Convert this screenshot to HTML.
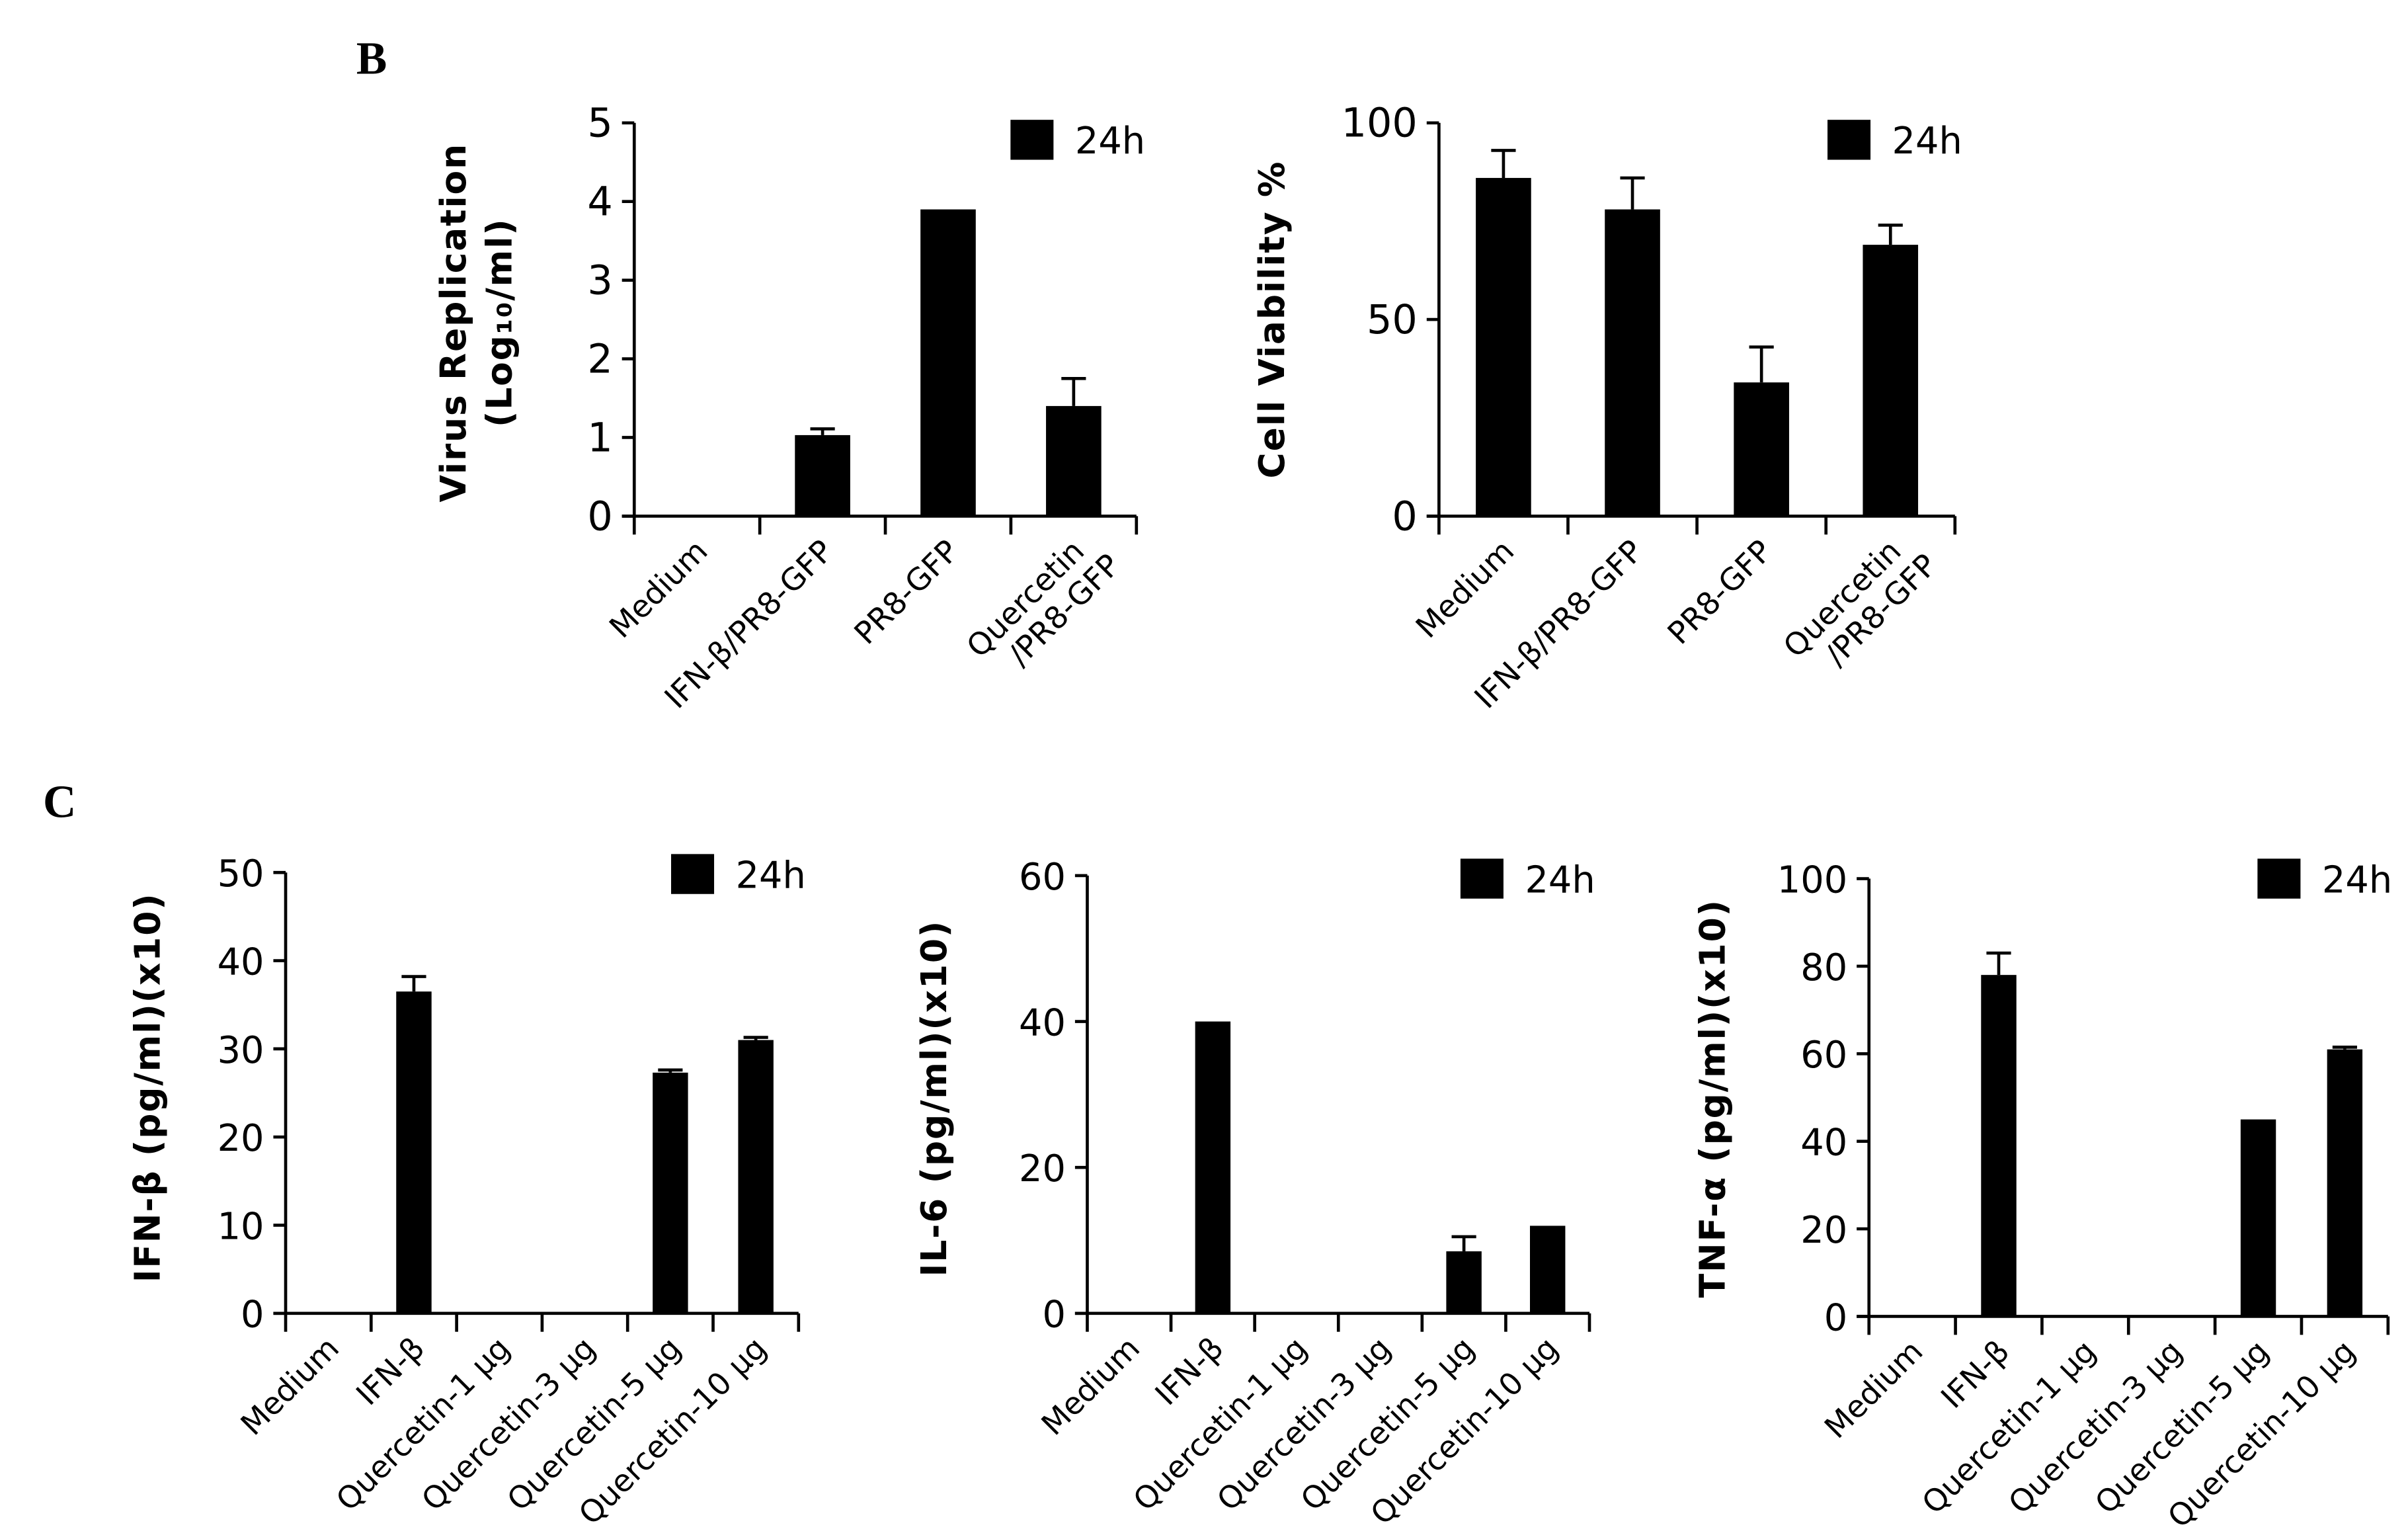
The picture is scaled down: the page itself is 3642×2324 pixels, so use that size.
<!DOCTYPE html>
<html><head><meta charset="utf-8"><style>
html,body{margin:0;padding:0;background:#fff;}
svg{display:block;}
text{font-family:"DejaVu Sans","Liberation Sans",sans-serif;fill:#000;}
</style></head><body>
<svg id="fig" width="3642" height="2324" viewBox="0 0 1568 1000.6" preserveAspectRatio="none" xmlns="http://www.w3.org/2000/svg">
<text x="232" y="48" style="font-family:'Liberation Serif',serif;font-weight:bold;font-size:30px">B</text>
<text x="28" y="532" style="font-family:'Liberation Serif',serif;font-weight:bold;font-size:30px">C</text>
</svg>
<script>
// Chart B1: Virus replication
const b1Categories = ["Medium","IFN-β/PR8-GFP","PR8-GFP","Quercetin\n/PR8-GFP"];
const b1Values = [0, 1.03, 3.9, 1.4];
const b1Errors = [0, 0.08, 0, 0.35];
const b1Ticks = [0,1,2,3,4,5];
// Chart B2: Cell viability
const b2Categories = ["Medium","IFN-β/PR8-GFP","PR8-GFP","Quercetin\n/PR8-GFP"];
const b2Values = [86, 78, 34, 69];
const b2Errors = [7, 8, 9, 5];
const b2Ticks = [0,50,100];
// Chart C1: IFN-beta
const cCategories = ["Medium","IFN-β","Quercetin-1 μg","Quercetin-3 μg","Quercetin-5 μg","Quercetin-10 μg"];
const c1Values = [0, 36.5, 0, 0, 27.3, 31];
const c1Errors = [0, 1.7, 0, 0, 0.3, 0.3];
const c1Ticks = [0,10,20,30,40,50];
// Chart C2: IL-6
const c2Values = [0, 40, 0, 0, 8.5, 12];
const c2Errors = [0, 0, 0, 0, 2, 0];
const c2Ticks = [0,20,40,60];
// Chart C3: TNF-alpha
const c3Values = [0, 78, 0, 0, 45, 61];
const c3Errors = [0, 5, 0, 0, 0, 0.5];
const c3Ticks = [0,20,40,60,80,100];

const NS="http://www.w3.org/2000/svg";
const svg=document.getElementById('fig');
function mk(tag,attrs,parent){const e=document.createElementNS(NS,tag);for(const k in attrs)e.setAttribute(k,attrs[k]);(parent||svg).appendChild(e);return e;}

function chart(o){
  const g=mk('g',{});
  
  
  const maxV=o.ticks[o.ticks.length-1];
  const y=v=>o.y0-(v/maxV)*(o.y0-o.yTop);
  const n=o.cats.length;
  const step=(o.x1-o.x0)/n;
  const x=i=>o.x0+step*(i+0.5);
  const ya=mk('line',{x1:o.x0,y1:o.yTop,x2:o.x0,y2:o.y0,stroke:'#000','stroke-width':2},g);
  
  
  const xa=mk('line',{x1:o.x0-8,y1:o.y0,x2:o.x1,y2:o.y0,stroke:'#000','stroke-width':2},g);
  
  
  for(let i=0;i<=n;i++){
    const xt=o.x0+step*i;
    const t=mk('line',{x1:xt,y1:o.y0,x2:xt,y2:o.y0+12,stroke:'#000','stroke-width':2},g);
    
    
  }
  o.ticks.forEach(v=>{
    const t=mk('line',{x1:o.x0-8,y1:y(v),x2:o.x0,y2:y(v),stroke:'#000','stroke-width':2},g);
    
    
    const lb=mk('text',{x:o.x0-14,y:y(v)+9,'text-anchor':'end','font-size':o.tickFs||26},g);
    lb.textContent=v;
    
    
  });
  o.vals.forEach((v,i)=>{
    if(v>0){
      const r=mk('rect',{x:x(i)-o.bw/2,y:y(v),width:o.bw,height:o.y0-y(v),fill:'#000'},g);
      
      
    }
    if(o.errs[i]>0){
      const e=mk('path',{d:`M${x(i)},${y(v)} V${y(v+o.errs[i])} M${x(i)-8},${y(v+o.errs[i])} H${x(i)+8}`,stroke:'#000','stroke-width':2,fill:'none'},g);
      
      
    }
    const lines=o.cats[i].split('\n');
    const tx=mk('text',{transform:`translate(${x(i)+8},${o.y0+24}) rotate(-45)`,'text-anchor':'end','font-size':o.catFs||20},g);
    lines.forEach((ln,j)=>{const ts=mk('tspan',{x:j*10,dy:j?23:0},tx);ts.textContent=ln;});
    
    
  });
  const lr=mk('rect',{x:o.lx,y:o.ly-13,width:28,height:26,fill:'#000'},g);
  
  
  const lt=mk('text',{x:o.lx+42,y:o.ly+9,'font-size':24},g);
  lt.textContent='24h';
  
  
  o.title.forEach((t,j)=>{
    const tt=mk('text',{transform:`translate(${o.tx+j*30},${o.ty}) rotate(-90)`,'text-anchor':'middle','font-size':23,'font-weight':'bold','letter-spacing':0.8},g);
    tt.textContent=t;
    
    
  });
}

chart({name:'virus-replication-chart',cats:b1Categories,vals:b1Values,errs:b1Errors,ticks:b1Ticks,x0:413,x1:740,yTop:80,y0:336,bw:36,lx:658,ly:91,title:['Virus Replication','(Log₁₀/ml)'],tx:303,ty:210});
chart({name:'cell-viability-chart',cats:b2Categories,vals:b2Values,errs:b2Errors,ticks:b2Ticks,x0:937,x1:1273,yTop:80,y0:336,bw:36,lx:1190,ly:91,title:['Cell Viability %'],tx:836,ty:208});
chart({name:'ifn-beta-chart',cats:cCategories,vals:c1Values,errs:c1Errors,ticks:c1Ticks,x0:186,x1:520,yTop:568,y0:855,bw:23,lx:437,ly:569,title:['IFN-β (pg/ml)(x10)'],tx:104,ty:708,tickFs:24});
chart({name:'il6-chart',cats:cCategories,vals:c2Values,errs:c2Errors,ticks:c2Ticks,x0:708,x1:1035,yTop:570,y0:855,bw:23,lx:951,ly:572,title:['IL-6 (pg/ml)(x10)'],tx:616,ty:715,tickFs:24});
chart({name:'tnf-alpha-chart',cats:cCategories,vals:c3Values,errs:c3Errors,ticks:c3Ticks,x0:1217,x1:1555,yTop:572,y0:857,bw:23,lx:1470,ly:572,title:['TNF-α (pg/ml)(x10)'],tx:1123,ty:715,tickFs:24});
</script>
</body></html>
